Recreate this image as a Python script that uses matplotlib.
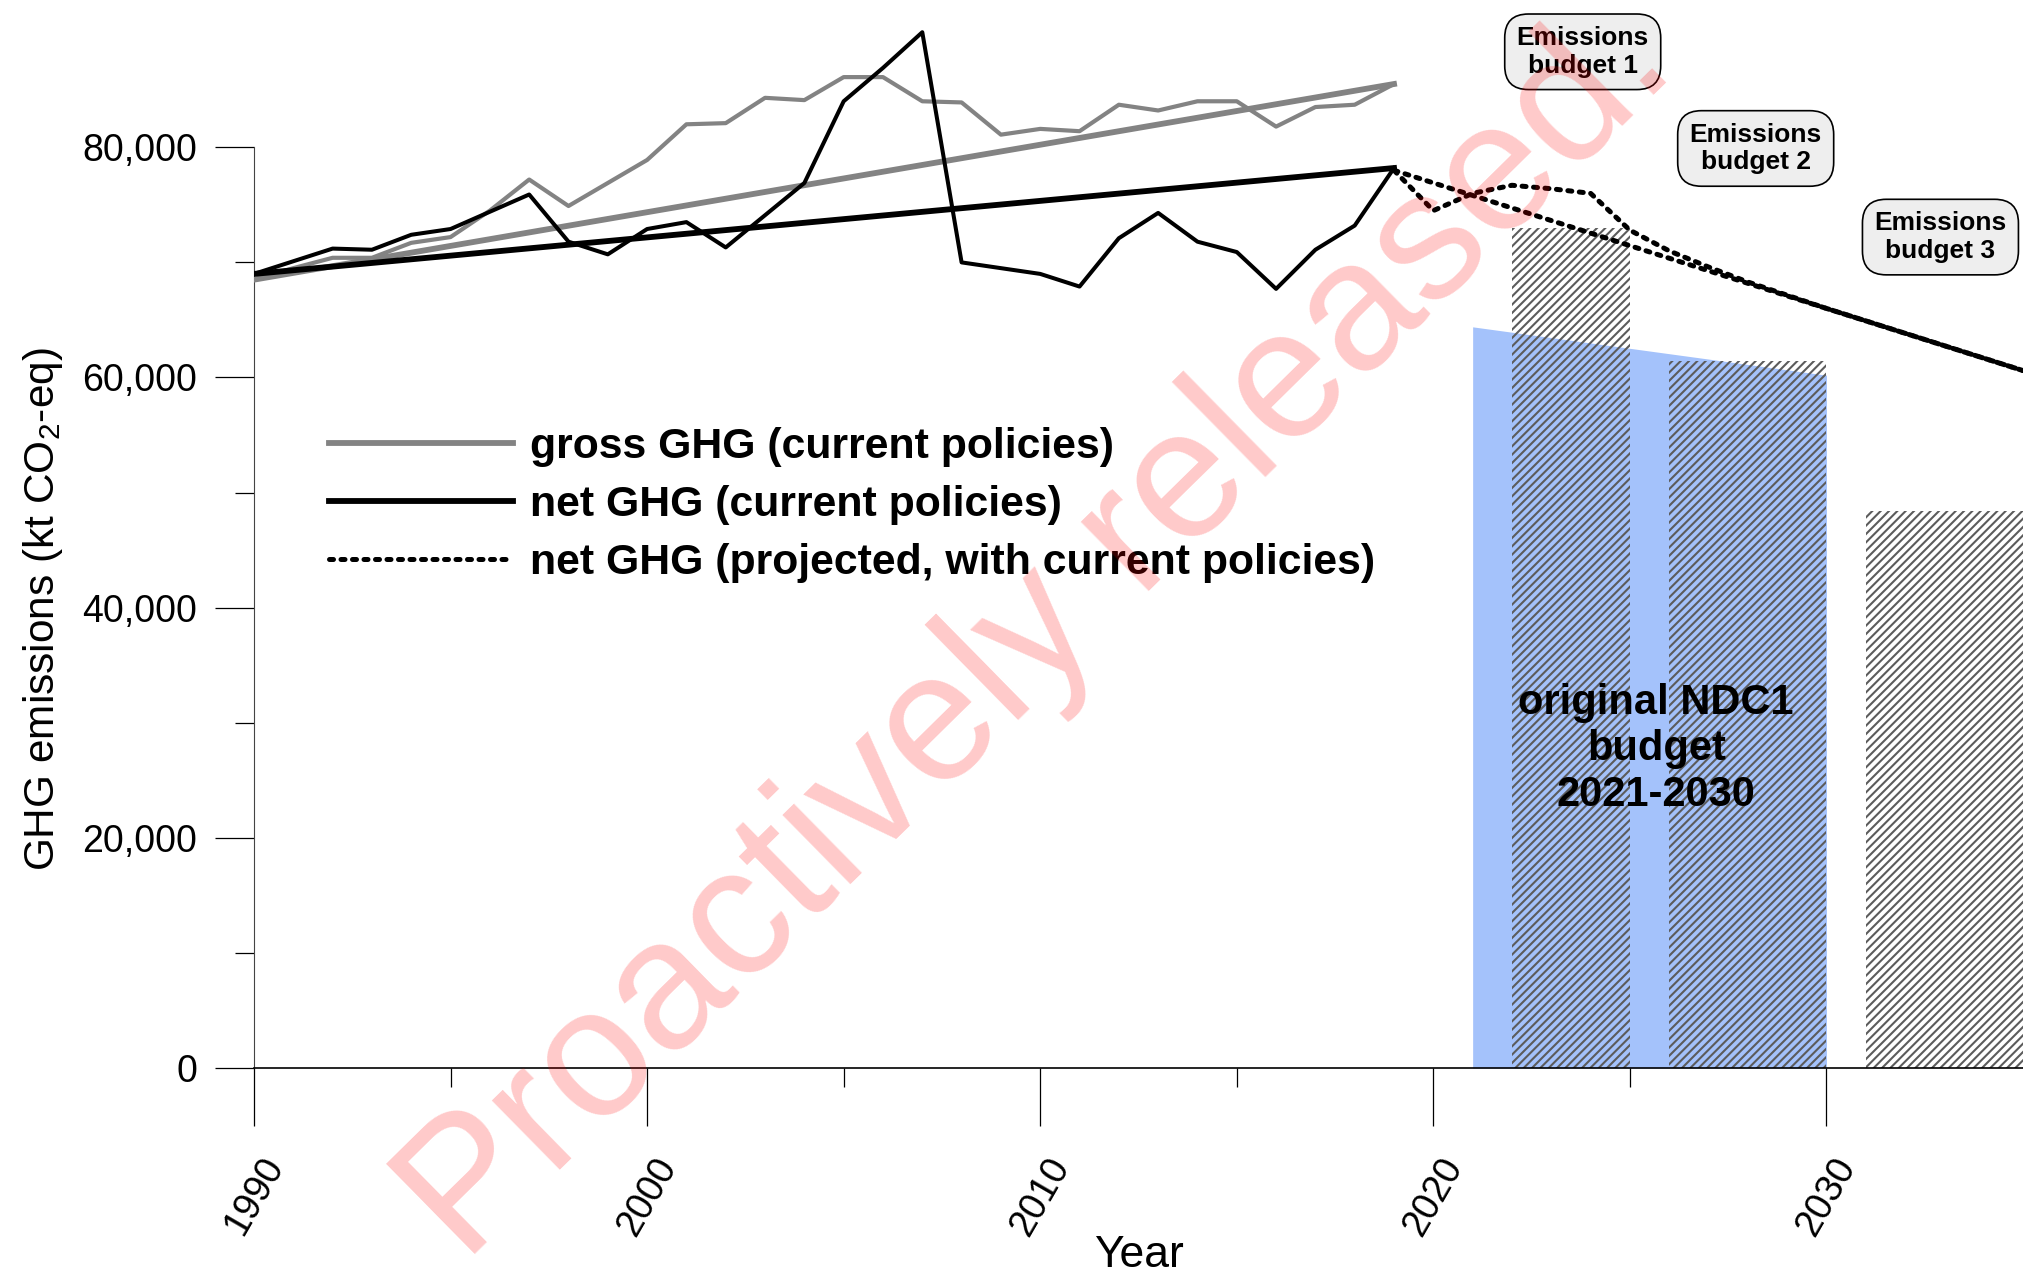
import matplotlib
matplotlib.use("Agg")
import matplotlib.pyplot as plt
from matplotlib.lines import Line2D
from matplotlib.ticker import StrMethodFormatter

plt.rcParams['font.family'] = ['Liberation Sans', 'DejaVu Sans']
plt.rcParams['mathtext.fontset'] = 'custom'
plt.rcParams['mathtext.rm'] = 'Liberation Sans'
plt.rcParams['mathtext.it'] = 'Liberation Sans:italic'
plt.rcParams['hatch.linewidth'] = 1.5

# dane historyczne (kt CO2-eq)
years = list(range(1990, 2020))
gross = [68500, 69500, 70400, 70400, 71700, 72200, 74500, 77200, 74900, 76900,
         78900, 82000, 82100, 84300, 84100, 86100, 86100, 84000, 83900, 81100,
         81600, 81400, 83700, 83200, 84000, 84000, 81800, 83500, 83700, 85500]
net = [69000, 70100, 71200, 71100, 72400, 72900, 74400, 75900, 71800, 70700,
       72900, 73500, 71300, 74100, 76900, 84000, 86900, 90000, 70000, 69500,
       69000, 67900, 72100, 74300, 71800, 70900, 67700, 71100, 73200, 78200]

# linie trendu
trend_years = [1990, 2019]
gross_trend = [68500, 85500]
net_trend = [69000, 78200]

# projekcje
proj_years = [2019, 2020, 2021, 2022, 2023, 2024, 2025, 2026, 2027, 2028, 2030, 2035]
proj = [78000, 74500, 76000, 76700, 76400, 76000, 72800, 71000, 69600, 68300, 66000, 60600]
proj_trend_years = [2019, 2030, 2035]
proj_trend = [78000, 66000, 60600]

# budzet NDC1
ndc_years = [2021, 2030]
ndc_values = [64400, 60200]

# budzety emisji
budget_start = [2022, 2026, 2031]
budget_width = [3, 4, 4]
budget_values = [73000, 61400, 48400]
budget_labels = ["Emissions\nbudget 1", "Emissions\nbudget 2", "Emissions\nbudget 3"]
budget_label_x = [2023.8, 2028.2, 2032.9]
budget_label_y = [88300, 79900, 72200]

fig = plt.figure(figsize=(20.23, 12.79), dpi=100)
ax = fig.add_axes([254/2023, 1-1068/1279, 1769/2023, 1068/1279])
ax.set_xlim(1990, 2035)
ax.set_ylim(0, 92800)

ax.fill_between(ndc_years, ndc_values, 0, color='#a4c2fb', lw=0, zorder=1)
ax.bar(budget_start, budget_values, width=budget_width, align='edge',
       facecolor='none', edgecolor='#5c5c5c', hatch='////', lw=0, zorder=2)

gray = '#838383'
dots = dict(color='black', lw=3.6, dashes=(0.8, 1.5), dash_capstyle='round')
ax.plot(years, gross, color=gray, lw=3.0, zorder=3)
ax.plot(trend_years, gross_trend, color=gray, lw=4.2, zorder=3)
ax.plot(years, net, color='black', lw=2.9, zorder=4)
ax.plot(trend_years, net_trend, color='black', lw=4.2, zorder=4)
ax.plot(proj_years, proj, zorder=4, **dots)
ax.plot(proj_trend_years, proj_trend, zorder=4, **dots)

ax.text(2025.67, 27700, "original NDC1\nbudget\n2021-2030", ha='center', va='center',
        fontsize=30, fontweight='bold', linespacing=1.2, zorder=5)

for bx, by, lab in zip(budget_label_x, budget_label_y, budget_labels):
    ax.text(bx, by, lab, ha='center', va='center', fontsize=19, fontweight='bold',
            linespacing=1.2, zorder=6, clip_on=False,
            bbox=dict(boxstyle='round,pad=0.45,rounding_size=0.9', fc='#eeeeee',
                      ec='black', lw=1.2))

# osie
for s in ['top', 'right']:
    ax.spines[s].set_visible(False)
ax.spines['left'].set_bounds(0, 80000)
ax.spines['left'].set_color('#444444')
ax.spines['bottom'].set_linewidth(1.2)

ax.set_xticks([1990, 2000, 2010, 2020, 2030])
ax.set_xticks([1995, 2005, 2015, 2025], minor=True)
ax.set_yticks([0, 20000, 40000, 60000, 80000])
ax.set_yticks([10000, 30000, 50000, 70000], minor=True)
ax.yaxis.set_major_formatter(StrMethodFormatter('{x:,.0f}'))
ax.tick_params(axis='x', which='major', length=42, width=0.9, pad=18, labelsize=27,
               labelrotation=60)
ax.tick_params(axis='x', which='minor', length=14, width=0.9)
ax.tick_params(axis='y', which='major', length=28, width=0.9, pad=13, labelsize=27)
ax.tick_params(axis='y', which='minor', length=14, width=0.9)

ax.set_ylabel("GHG emissions (kt CO$_2$-eq)", fontsize=30.5)
ax.yaxis.set_label_coords(-0.107, 0.43)
ax.set_xlabel("Year", fontsize=32)
ax.xaxis.set_label_coords(0.5, -0.156)

handles = [Line2D([], [], color=gray, lw=4.2),
           Line2D([], [], color='black', lw=4.2),
           Line2D([], [], **dots)]
labels = ["gross GHG (current policies)", "net GHG (current policies)",
          "net GHG (projected, with current policies)"]
ax.legend(handles, labels, loc='upper left', bbox_to_anchor=(0.0424, 0.600),
          frameon=False, borderpad=0, borderaxespad=0, handlelength=4.3,
          handletextpad=0.4, labelspacing=0.42, prop={'size': 30.8, 'weight': 'bold'})

# znak wodny
fig.text(0.513, 1-633/1279, "Proactively released.", rotation=44.5, ha='center',
         va='center', fontsize=132, color='red', alpha=0.21, zorder=10)

fig.savefig("out.png", dpi=100)
